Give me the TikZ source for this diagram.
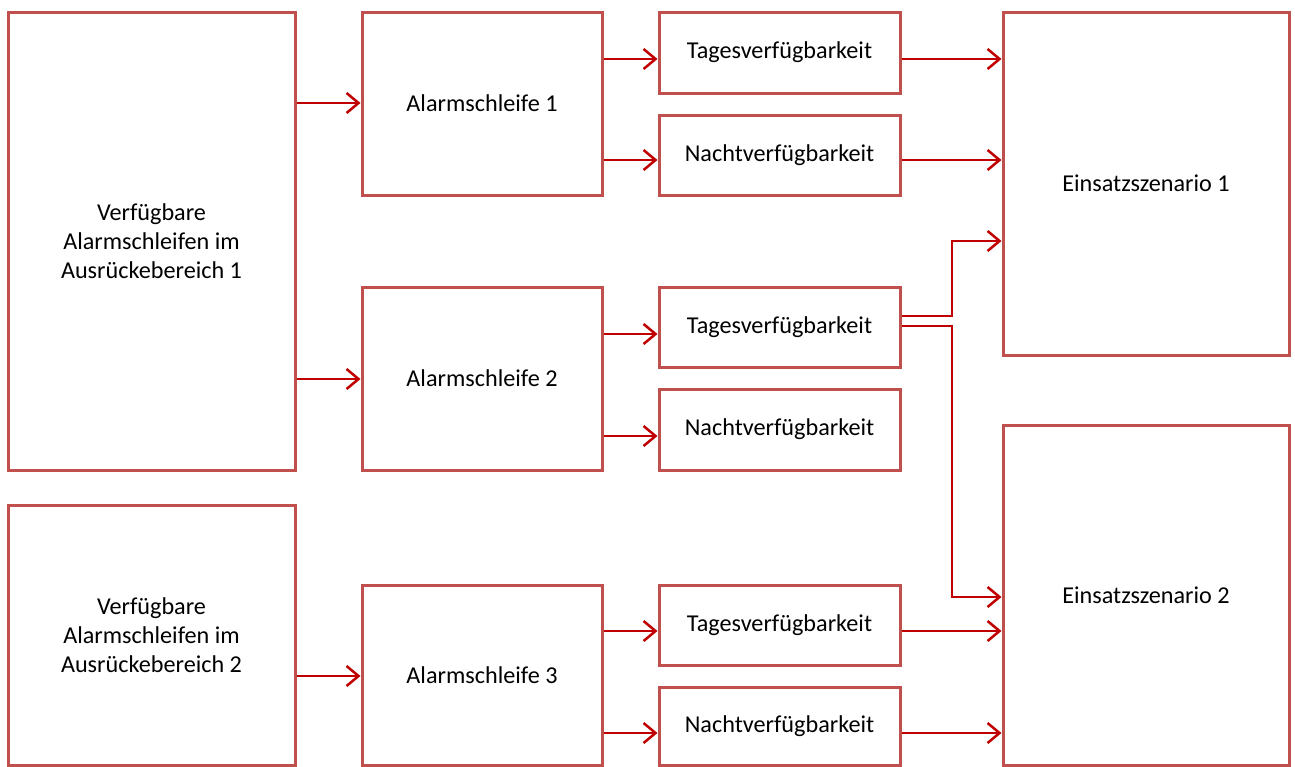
\documentclass[tikz,border=0pt]{standalone}
\usepackage{fontspec}
\setmainfont{Carlito}
\usetikzlibrary{arrows.meta}
\definecolor{boxred}{RGB}{192,80,77}
\definecolor{arrred}{RGB}{192,0,0}
\tikzset{
  box/.style={draw=boxred, line width=3pt, fill=white, inner sep=2pt, align=center,
    font=\fontsize{24.2}{29}\selectfont, text=black},
  arr/.style={draw=arrred, line width=2.5pt, -{Straight Barb[length=12pt,width=20pt,line width=2.5pt]}},
  lin/.style={draw=arrred, line width=2.5pt}
}
\begin{document}
\begin{tikzpicture}[x=1pt,y=-1pt]
\useasboundingbox (0,0) rectangle (1295,766);
\node[box, minimum width=287pt, minimum height=458pt] (L1) at (151.5,241) {Verfügbare\\Alarmschleifen im\\Ausrückebereich 1};
\node[box, minimum width=287pt, minimum height=260pt] (L2) at (151.5,635) {Verfügbare\\Alarmschleifen im\\Ausrückebereich 2};
\node[box, minimum width=240pt, minimum height=183pt] (A1) at (482,103.5) {Alarmschleife 1};
\node[box, minimum width=240pt, minimum height=183pt] (A2) at (482,378.5) {Alarmschleife 2};
\node[box, minimum width=240pt, minimum height=180pt] (A3) at (482,675) {Alarmschleife 3};
\node[box, minimum width=241pt, minimum height=81pt] (T1) at (779.5,52.5) {Tagesverfügbarkeit};
\node[box, minimum width=241pt, minimum height=80pt] (N1) at (779.5,155) {Nachtverfügbarkeit};
\node[box, minimum width=241pt, minimum height=80pt] (T2) at (779.5,327) {Tagesverfügbarkeit};
\node[box, minimum width=241pt, minimum height=81pt] (N2) at (779.5,429.5) {Nachtverfügbarkeit};
\node[box, minimum width=241pt, minimum height=80pt] (T3) at (779.5,625) {Tagesverfügbarkeit};
\node[box, minimum width=241pt, minimum height=78pt] (N3) at (779.5,726) {Nachtverfügbarkeit};
\node[box, minimum width=286pt, minimum height=343pt] (E1) at (1146,183.5) {Einsatzszenario 1};
\node[box, minimum width=286pt, minimum height=340pt] (E2) at (1146,595) {Einsatzszenario 2};
% left to Alarmschleifen
\draw[arr] (L1.east |- 0,103) -- (A1.west |- 0,103);
\draw[arr] (L1.east |- 0,379) -- (A2.west |- 0,379);
\draw[arr] (L2.east |- 0,676) -- (A3.west |- 0,676);
% Alarmschleifen to availabilities
\draw[arr] (A1.east |- 0,59) -- (T1.west |- 0,59);
\draw[arr] (A1.east |- 0,160) -- (N1.west |- 0,160);
\draw[arr] (A2.east |- 0,334) -- (T2.west |- 0,334);
\draw[arr] (A2.east |- 0,436) -- (N2.west |- 0,436);
\draw[arr] (A3.east |- 0,631) -- (T3.west |- 0,631);
\draw[arr] (A3.east |- 0,733) -- (N3.west |- 0,733);
% availabilities to scenarios
\draw[arr] (T1.east |- 0,59) -- (E1.west |- 0,59);
\draw[arr] (N1.east |- 0,160) -- (E1.west |- 0,160);
\draw[arr] (T2.east |- 0,316) -| (952,241) -- (E1.west |- 0,241);
\draw[arr] (T2.east |- 0,326) -| (952,597) -- (E2.west |- 0,597);
\draw[arr] (T3.east |- 0,631) -- (E2.west |- 0,631);
\draw[arr] (N3.east |- 0,733) -- (E2.west |- 0,733);
\end{tikzpicture}
\end{document}
